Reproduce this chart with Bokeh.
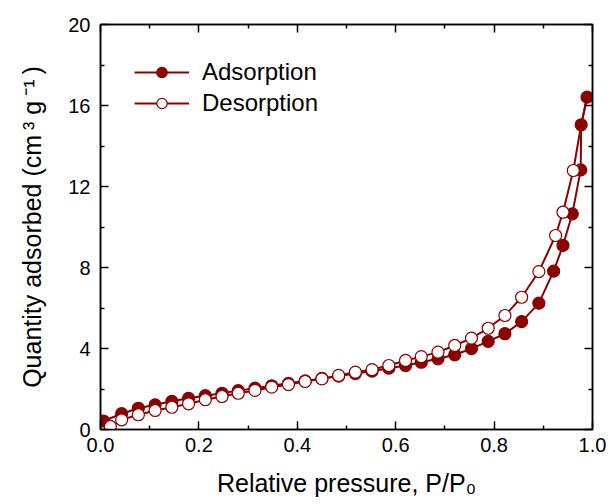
from bokeh.plotting import figure
from bokeh.models import LinearAxis, FixedTicker, Range1d, Legend, LegendItem
from bokeh.embed import file_html
from bokeh.resources import INLINE

# Adsorption branch (filled circles)
ads_x = [0.006, 0.043, 0.077, 0.111, 0.145, 0.179, 0.213, 0.247, 0.280, 0.314,
         0.348, 0.382, 0.416, 0.450, 0.484, 0.518, 0.552, 0.586, 0.620, 0.652,
         0.686, 0.720, 0.754, 0.788, 0.822, 0.856, 0.891, 0.921, 0.940, 0.959,
         0.976, 0.977, 0.989]
ads_y = [0.42, 0.78, 1.05, 1.22, 1.39, 1.54, 1.67, 1.79, 1.92, 2.04,
         2.16, 2.28, 2.40, 2.52, 2.64, 2.76, 2.88, 3.03, 3.16, 3.32,
         3.49, 3.69, 3.99, 4.35, 4.73, 5.33, 6.24, 7.82, 9.09, 10.65,
         12.82, 15.05, 16.41]

# Desorption branch (open circles)
des_x = [0.989, 0.977, 0.961, 0.940, 0.925, 0.891, 0.856, 0.822, 0.788, 0.754,
         0.720, 0.686, 0.652, 0.620, 0.586, 0.552, 0.518, 0.484, 0.450, 0.416,
         0.382, 0.348, 0.314, 0.280, 0.247, 0.213, 0.179, 0.145, 0.111, 0.077,
         0.043, 0.020]
des_y = [16.41, 15.05, 12.79, 10.73, 9.58, 7.80, 6.53, 5.63, 5.00, 4.51,
         4.15, 3.82, 3.60, 3.41, 3.16, 2.96, 2.83, 2.67, 2.50, 2.37,
         2.22, 2.09, 1.93, 1.79, 1.63, 1.47, 1.27, 1.10, 0.94, 0.73,
         0.48, 0.15]

x_ticks = [0.0, 0.2, 0.4, 0.6, 0.8, 1.0]
x_minor = [0.1, 0.3, 0.5, 0.7, 0.9]
y_ticks = [0, 4, 8, 12, 16, 20]
y_minor = [2, 6, 10, 14, 18]

COLOR = "#8b0000"
FONT = "Liberation Sans"

p = figure(width=608, height=504, output_backend="svg", toolbar_location=None,
           x_range=Range1d(0, 1), y_range=Range1d(0, 20),
           min_border_left=100, min_border_right=16, min_border_top=24,
           min_border_bottom=75)
p.grid.visible = False
p.outline_line_color = "black"
p.outline_line_width = 1.5
p.background_fill_color = "white"
p.border_fill_color = "white"

def style_axis(ax, ticks, minor, show_labels):
    ax.ticker = FixedTicker(ticks=ticks, minor_ticks=minor)
    ax.axis_line_color = "black"
    ax.axis_line_width = 1.5
    ax.major_tick_in = 8
    ax.major_tick_out = 0
    ax.minor_tick_in = 4
    ax.minor_tick_out = 0
    ax.major_tick_line_width = 1.5
    ax.minor_tick_line_width = 1.5
    ax.major_label_text_font = FONT
    ax.major_label_text_font_size = "20px"
    ax.major_label_text_color = "black" if show_labels else None
    ax.axis_label_text_font = FONT
    ax.axis_label_text_font_size = "24px"
    ax.axis_label_text_font_style = "normal"
    ax.axis_label_text_color = "black"

xa = p.xaxis[0]
style_axis(xa, x_ticks, x_minor, True)
xa.major_label_overrides = {0.0: "0.0", 1.0: "1.0"}
xa.major_label_standoff = 8
xa.axis_label = "Relative pressure, P/P\u2080"
xa.axis_label_text_font_size = "25px"
xa.axis_label_standoff = 14

ya = p.yaxis[0]
style_axis(ya, y_ticks, y_minor, True)
ya.major_label_standoff = 10
ya.axis_label = "Quantity adsorbed (cm\u2009\u00b3 g\u2009\u207b\u00b9\u2009)"
ya.axis_label_text_font_size = "25px"
ya.axis_label_standoff = 19

top = LinearAxis()
style_axis(top, x_ticks, x_minor, False)
top.major_label_text_font_size = "0px"
top.major_label_standoff = 0
p.add_layout(top, "above")

right = LinearAxis()
style_axis(right, y_ticks, y_minor, False)
right.major_label_text_font_size = "0px"
right.major_label_standoff = 0
p.add_layout(right, "right")

# lines
ads_line = p.line(ads_x, ads_y, line_color=COLOR, line_width=2)
ads_pts = p.scatter(ads_x, ads_y, marker="circle", size=12,
                    fill_color=COLOR, line_color=COLOR, line_width=1.2)
des_line = p.line(des_x, des_y, line_color=COLOR, line_width=2)
des_pts = p.scatter(des_x[2:], des_y[2:], marker="circle", size=12,
                    fill_color="white", line_color=COLOR, line_width=1.2)

legend = Legend(items=[
    LegendItem(label="Adsorption", renderers=[ads_line, ads_pts]),
    LegendItem(label="Desorption", renderers=[des_line, des_pts]),
], location=(34, 312))
legend.border_line_color = None
legend.background_fill_alpha = 0
legend.label_text_font = FONT
legend.label_text_font_size = "24px"
legend.label_text_color = "black"
legend.glyph_width = 55
legend.glyph_height = 26
legend.label_height = 26
legend.spacing = 3
legend.margin = 0
legend.padding = 0
legend.label_standoff = 13
p.add_layout(legend, "center")

open("out.html", "w").write(file_html(p, INLINE))
